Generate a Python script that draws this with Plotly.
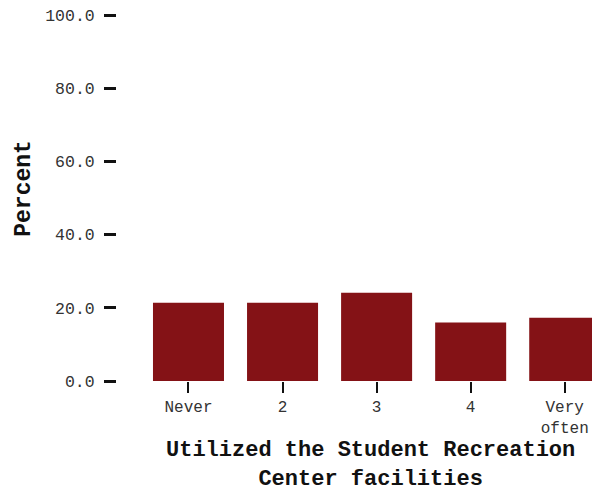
import plotly.graph_objects as go

categories = ["Never", "2", "3", "4", "Very<br>often"]
percent = [21.4, 21.4, 24.1, 16.0, 17.3]
ytick_vals = [0, 20, 40, 60, 80, 100]
ytick_text = ["0.0", "20.0", "40.0", "60.0", "80.0", "100.0"]
xtitle = "Utilized the Student Recreation<br>Center facilities"
ytitle = "Percent"

fig = go.Figure()
fig.add_trace(go.Bar(
    x=list(range(len(categories))), y=percent,
    marker=dict(color="#841216", line=dict(width=0)),
    width=0.755,
))

mono = "Courier New, Liberation Mono, monospace"
H = 366.5
W = 475
def py(pix):
    return (381.5 - pix) / H
def px(pix):
    return (pix - 117) / W

fig.update_layout(
    width=592, height=492,
    margin=dict(l=117, r=0, t=15, b=110.5),
    plot_bgcolor="white", paper_bgcolor="white",
    showlegend=False,
    font=dict(family=mono, size=16.5, color="#333333"),
    xaxis=dict(
        range=[-0.76, 4.29], tickmode="array",
        tickvals=list(range(len(categories))), ticktext=categories,
        ticks="outside", ticklen=11, tickwidth=2, tickcolor="#111111",
        showline=False, showgrid=False, zeroline=False,
        tickfont=dict(family=mono, size=16, color="#333333"),
        ticklabelstandoff=0,
    ),
    yaxis=dict(
        range=[0, 100], tickmode="array", tickvals=ytick_vals, ticktext=ytick_text,
        ticks="outside", ticklen=12, tickwidth=2.5, tickcolor="#111111",
        showline=False, showgrid=False, zeroline=False,
        tickfont=dict(family=mono, size=16.5, color="#333333"),
        ticklabelstandoff=6,
    ),
    annotations=[
        dict(text="<b>%s</b>" % xtitle,
             xref="paper", yref="paper", x=px(370.5), y=py(466),
             xanchor="center", yanchor="middle", showarrow=False,
             font=dict(family=mono, size=22, color="#111111")),
        dict(text="<b>%s</b>" % ytitle, textangle=-90,
             xref="paper", yref="paper", x=px(24), y=py(189),
             xanchor="center", yanchor="middle", showarrow=False,
             font=dict(family=mono, size=23, color="#111111")),
    ],
)

fig.write_html("out.html", config={"displayModeBar": False},
               post_script="document.body.style.margin='0';document.body.style.overflow='hidden';")
